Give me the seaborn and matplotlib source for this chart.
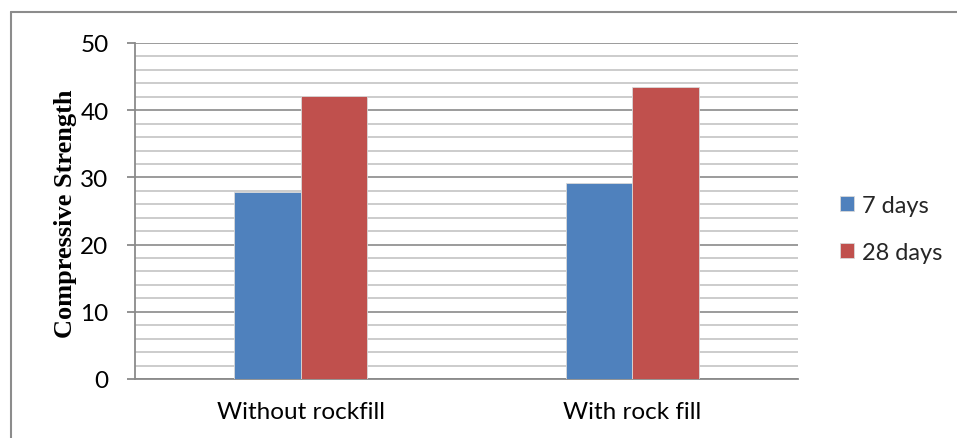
import matplotlib
matplotlib.use("Agg")
import matplotlib.pyplot as plt
from matplotlib.lines import Line2D
from matplotlib.ticker import MultipleLocator
import seaborn as sns
import pandas as pd

categories = ["Without rockfill", "With rock fill"]
ages = ["7 days", "28 days"]
strength_7 = [27.8, 29.1]
strength_28 = [42.1, 43.5]

df = pd.DataFrame({
    "category": categories * 2,
    "age": [ages[0]] * len(categories) + [ages[1]] * len(categories),
    "strength": strength_7 + strength_28,
})

sns.set_theme(style="white")
plt.rcParams["font.family"] = ["Lato", "DejaVu Sans"]

W, H = 957, 439
fig = plt.figure(figsize=(W / 100, H / 100), dpi=100)
ax = fig.add_axes([135 / W, 1 - 380 / H, (798 - 135) / W, (380 - 44) / H])

palette = {"7 days": "#4F81BD", "28 days": "#C0504D"}
sns.barplot(data=df, x="category", y="strength", hue="age", hue_order=ages,
            order=categories, palette=palette, width=0.4, gap=0,
            saturation=1, ax=ax, legend=True, zorder=3,
            edgecolor="#d9d9d9", linewidth=0.6)

ax.set_ylim(0, 50)
ax.set_xlim(-0.5, 1.5)
ax.yaxis.set_major_locator(MultipleLocator(10))
ax.yaxis.set_minor_locator(MultipleLocator(2))
ax.grid(True, which="minor", axis="y", color="#c4c4c4", linewidth=1.2, zorder=0)
ax.grid(True, which="major", axis="y", color="#8a8a8a", linewidth=1.2, zorder=1)
ax.set_axisbelow(True)

for side in ["top", "right"]:
    ax.spines[side].set_visible(False)
for side in ["left", "bottom"]:
    ax.spines[side].set_color("#8a8a8a")
    ax.spines[side].set_linewidth(1.3)

ax.tick_params(axis="y", which="major", direction="out", length=6, width=1.3,
               color="#8a8a8a", pad=13, labelsize=17.5, left=True)
ax.tick_params(axis="y", which="minor", length=0)
ax.tick_params(axis="x", length=0, pad=16, labelsize=17.5)
for lbl in ax.get_xticklabels() + ax.get_yticklabels():
    lbl.set_color("#000000")

ax.set_xlabel("")
ax.set_ylabel("Compressive Strength", fontsize=19, fontweight="bold",
              family=["Liberation Serif", "DejaVu Serif"], color="#000000")
ax.yaxis.set_label_coords(-0.087, 0.494)

ax.get_legend().remove()
handles, labels = ax.get_legend_handles_labels()
fig.legend(handles, labels, loc="center left",
           bbox_to_anchor=(840 / W, 1 - 230 / H), frameon=False,
           fontsize=17, handlelength=0.6, handleheight=0.6,
           handletextpad=0.35, labelspacing=1.1, borderpad=0,
           borderaxespad=0)

# outer chart border (top and left edges)
bx, by = 11 / W, 1 - 13 / H
fig.add_artist(Line2D([bx, 1.0], [by, by], transform=fig.transFigure,
                      color="#8c8c8c", linewidth=1.5))
fig.add_artist(Line2D([bx, bx], [0.0, by], transform=fig.transFigure,
                      color="#8c8c8c", linewidth=1.5))

fig.savefig("out.png", dpi=100, facecolor="white")
